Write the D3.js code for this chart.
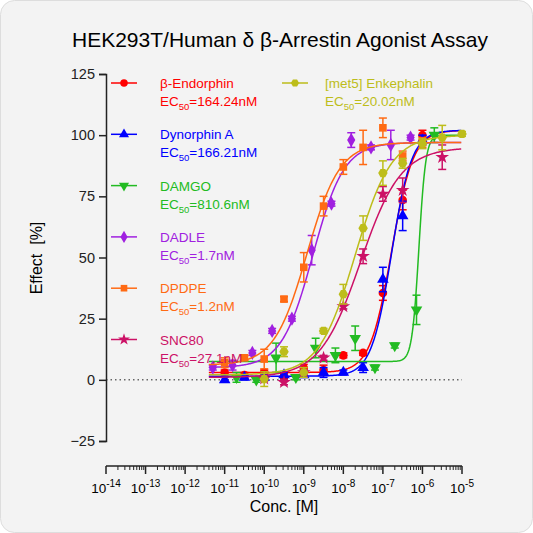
<!DOCTYPE html>
<html>
<head>
<script src="https://d3js.org/d3.v7.min.js"></script>
<style>
  body { margin: 0; background: #fff; }
  svg { font-family: "Liberation Sans", Arial, sans-serif; }
</style>
</head>
<body>
<svg id="chart" width="533" height="533"></svg>
<script>
// log10 concentrations and mean effect (%)
const endorphinX = [-11, -10.5, -10, -9.5, -9, -8.5, -8, -7.5, -7, -6.5, -6];
const endorphinY = [3, 2, 3, 1.6, 4.8, 4, 10, 11, 35.5, 73.5, 100];
const endorphinE = [1, 1, 1, 1, 1.5, 2, 1, 1, 3, 4, 2];
const dynorphinX = [-11, -10.5, -10, -9.5, -9, -8.5, -8, -7.5, -7, -6.5, -6];
const dynorphinY = [0, 1, 1, 2, 2, 3, 3, 5, 41, 67, 98];
const dynorphinE = [1, 1, 1, 1, 1, 2, 1, 2, 5, 6, 2];
const damgoX = [-10.7, -10.2, -9.7, -9.2, -8.7, -8.2, -7.7, -7.2, -6.7, -6.15, -5.7];
const damgoY = [1, 0, 9, 1, 13, 10, 17, 5, 14, 28.6, 100];
const damgoE = [2, 1, 6, 1, 4, 3, 5, 1, 1, 6, 3];
const dadleX = [-11.3, -10.8, -10.3, -9.8, -9.3, -8.8, -8.3, -7.8, -7.3, -6.8, -6.3];
const dadleY = [5, 6, 11, 20, 25, 53, 72, 98, 95, 96, 99];
const dadleE = [1, 2, 1, 1, 1, 6, 1, 3, 1, 6, 1];
const dpdpeX = [-11, -10.5, -10, -9.5, -9, -8.5, -8, -7.5, -7, -6.5, -6];
const dpdpeY = [7, 9, 8.5, 33, 46, 71, 87, 95, 103, 91.5, 97];
const dpdpeE = [2, 1, 4, 1, 6, 4, 3, 7, 4, 2, 2];
const met5X = [-10, -9.5, -9, -8.5, -8, -7.5, -7, -6.5, -6, -5.5, -5];
const met5Y = [0.3, 11.5, 3, 20, 35, 62, 84.5, 88.5, 96.5, 99, 100.5];
const met5E = [3, 2, 2, 1, 4, 5, 5, 2, 2, 5, 1];
const snc80X = [-10, -9.5, -9, -8.5, -8, -7.5, -7, -6.5, -5.5];
const snc80Y = [0.5, -1, 3, 9, 30, 50.5, 76, 77.5, 91];
const snc80E = [1, 1, 1, 1, 1, 3, 3, 5, 5];

// curve fit parameters: bottom, top, logEC50, hill
const names = ["β-Endorphin", "Dynorphin A", "DAMGO", "DADLE", "DPDPE", "SNC80", "[met5] Enkephalin"];
const ec50Labels = ["164.24nM", "166.21nM", "810.6nM", "1.7nM", "1.2nM", "27.1nM", "20.02nM"];
const colors = ["#ff0000", "#0000ff", "#22bb22", "#a020e0", "#ff6a13", "#cc1166", "#bdbd1a"];
const symbols = [d3.symbolCircle, d3.symbolTriangle, "tri-down", d3.symbolDiamond, d3.symbolSquare, d3.symbolStar, "hex"];
const bottoms = [3, 1.5, 7.5, 5, 6, 1, 2];
const tops = [102, 102, 100, 97, 97, 95, 100];
const logEC = [-6.78, -6.78, -6.09, -8.77, -8.92, -7.57, -7.7];
const hills = [1.6, 1.7, 5, 1.1, 1.05, 0.85, 0.95];
const xsData = [endorphinX, dynorphinX, damgoX, dadleX, dpdpeX, snc80X, met5X];
const ysData = [endorphinY, dynorphinY, damgoY, dadleY, dpdpeY, snc80Y, met5Y];
const esData = [endorphinE, dynorphinE, damgoE, dadleE, dpdpeE, snc80E, met5E];

const xDecades = d3.range(-14, -4);
const yTicks = [-25, 0, 25, 50, 75, 100, 125];

const svg = d3.select("#chart");
svg.append("rect").attr("x", 0.5).attr("y", 0.5).attr("width", 532).attr("height", 532)
  .attr("rx", 14).attr("fill", "#f3f3f3").attr("stroke", "#ddd");

const x = d3.scaleLinear().domain([-14, -5]).range([106, 462]);
const y = d3.scaleLinear().domain([-25, 125]).range([441, 74]);

svg.append("text").attr("x", 280).attr("y", 47).attr("text-anchor", "middle")
  .attr("font-size", 21).text("HEK293T/Human δ β-Arrestin Agonist Assay");

// y axis
const yAxis = svg.append("g").attr("transform", "translate(106,0)")
  .call(d3.axisLeft(y).tickValues(yTicks).tickSize(7).tickPadding(4));
yAxis.selectAll("text").attr("font-size", 14.5).attr("fill", "#222");
yAxis.selectAll("path,line").attr("stroke", "#222").attr("stroke-width", 1.5);
svg.append("text").attr("transform", "translate(42,258) rotate(-90)").attr("text-anchor", "middle")
  .attr("font-size", 16).attr("xml:space", "preserve").text("Effect  [%]");

// x axis
const xg = svg.append("g").attr("transform", "translate(0,466)");
xg.append("line").attr("x1", 106).attr("x2", 462).attr("stroke", "#222").attr("stroke-width", 1.5);
xDecades.forEach(d => {
  xg.append("line").attr("x1", x(d)).attr("x2", x(d)).attr("y2", 8).attr("stroke", "#222").attr("stroke-width", 1.5);
  if (d < -5) d3.range(2, 10).forEach(m => {
    const v = d + Math.log10(m);
    xg.append("line").attr("x1", x(v)).attr("x2", x(v)).attr("y2", 4).attr("stroke", "#222");
  });
  const t = xg.append("text").attr("x", x(d)).attr("y", 27).attr("text-anchor", "middle").attr("font-size", 13.5);
  t.append("tspan").text("10");
  t.append("tspan").attr("dy", -6).attr("font-size", 10).text(d);
});
svg.append("text").attr("x", 284).attr("y", 512).attr("text-anchor", "middle").attr("font-size", 16).text("Conc. [M]");

// zero line
svg.append("line").attr("x1", 106).attr("x2", 462).attr("y1", y(0)).attr("y2", y(0))
  .attr("stroke", "#222").attr("stroke-dasharray", "1.5,3");

function symPath(s, size) {
  if (s === "tri-down") return d3.symbol(d3.symbolTriangle, size)();
  if (s === "hex") {
    const r = Math.sqrt(size / 2.6);
    return d3.line()(d3.range(6).map(i => [r * Math.cos(i * Math.PI / 3), r * Math.sin(i * Math.PI / 3)])) + "Z";
  }
  return d3.symbol(s, size)();
}
function drawSym(g, i, cx, cy, size) {
  g.append("path").attr("d", symPath(symbols[i], size))
    .attr("transform", `translate(${cx},${cy})` + (symbols[i] === "tri-down" ? " rotate(180)" : ""))
    .attr("fill", colors[i]);
}

const line = d3.line().x(d => x(d[0])).y(d => y(d[1]));
names.forEach((n, i) => {
  const g = svg.append("g");
  const pts = d3.range(-11.4, -5.0, 0.02).map(lx =>
    [lx, bottoms[i] + (tops[i] - bottoms[i]) / (1 + Math.pow(10, (logEC[i] - lx) * hills[i]))]);
  g.append("path").attr("d", line(pts)).attr("fill", "none").attr("stroke", colors[i]).attr("stroke-width", 1.5);
  xsData[i].forEach((lx, j) => {
    const v = ysData[i][j], e = esData[i][j];
    const cx = x(lx);
    g.append("line").attr("x1", cx).attr("x2", cx).attr("y1", y(v - e)).attr("y2", y(v + e)).attr("stroke", colors[i]).attr("stroke-width", 1.5);
    [v - e, v + e].forEach(w => g.append("line").attr("x1", cx - 4).attr("x2", cx + 4).attr("y1", y(w)).attr("y2", y(w)).attr("stroke", colors[i]).attr("stroke-width", 1.5));
    drawSym(g, i, cx, y(v), 58);
  });
});

// legend
names.forEach((n, i) => {
  const col = i < 6 ? 0 : 1;
  const row = i < 6 ? i : 0;
  const lx = col ? 295 : 124, tx = col ? 325 : 160, ty = 88 + row * 51.3;
  svg.append("line").attr("x1", lx - 13).attr("x2", lx + 13).attr("y1", ty - 5).attr("y2", ty - 5).attr("stroke", colors[i]).attr("stroke-width", 1.5);
  const g = svg.append("g");
  drawSym(g, i, lx, ty - 5, 44);
  svg.append("text").attr("x", tx).attr("y", ty).attr("font-size", 13.5).attr("fill", colors[i]).text(n);
  const t = svg.append("text").attr("x", tx).attr("y", ty + 18).attr("font-size", 13.5).attr("fill", colors[i]);
  t.append("tspan").text("EC");
  t.append("tspan").attr("dy", 4).attr("font-size", 9.5).text("50");
  t.append("tspan").attr("dy", -4).text("=" + ec50Labels[i]);
});
</script>
</body>
</html>
